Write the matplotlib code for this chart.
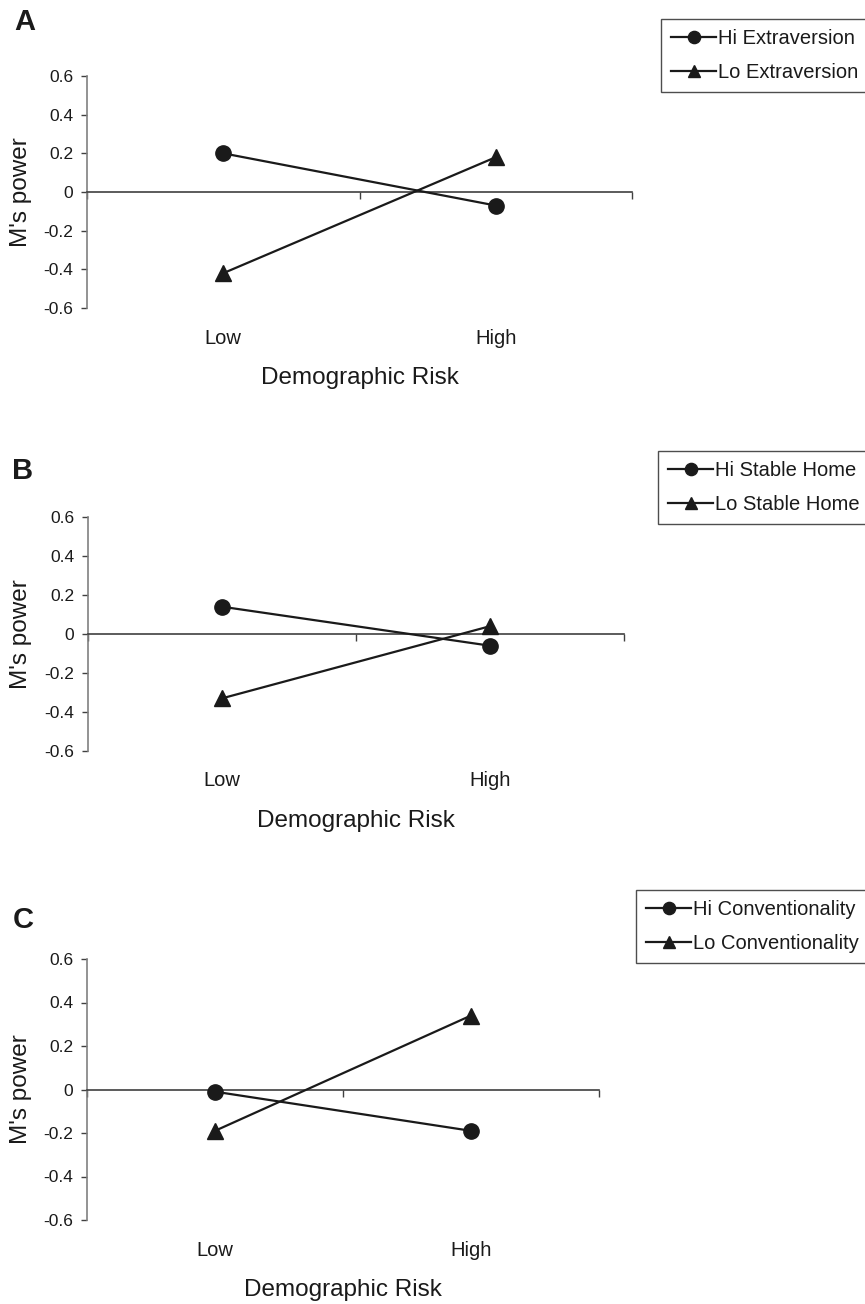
import matplotlib
matplotlib.use("Agg")
import matplotlib.pyplot as plt
from matplotlib.ticker import FixedLocator, FixedFormatter

plt.rcParams['font.family'] = ['Liberation Sans', 'DejaVu Sans']

# ---- data ----
categories = ['Low', 'High']
yticks = [-0.6, -0.4, -0.2, 0.0, 0.2, 0.4, 0.6]
ytick_labels = ['-0.6', '-0.4', '-0.2', '0', '0.2', '0.4', '0.6']

hi_extraversion = [0.20, -0.07]
lo_extraversion = [-0.42, 0.18]
hi_stable_home = [0.14, -0.06]
lo_stable_home = [-0.33, 0.04]
hi_conventionality = [-0.01, -0.19]
lo_conventionality = [-0.19, 0.34]

panels = [
    ('A', 'Hi Extraversion', hi_extraversion, 'Lo Extraversion', lo_extraversion),
    ('B', 'Hi Stable Home', hi_stable_home, 'Lo Stable Home', lo_stable_home),
    ('C', 'Hi Conventionality', hi_conventionality, 'Lo Conventionality', lo_conventionality),
]

W, H = 865, 1304
fig = plt.figure(figsize=(W / 100, H / 100), dpi=100)

# pixel layout: (left, right, top, bottom), legend anchor (x, y), letter (x, y)
layout = [
    ((87, 632, 76, 308), (661, 19), (14, 8)),
    ((88, 624, 517, 751), (658, 451), (12, 457)),
    ((87, 599, 959, 1220), (636, 890), (13, 906)),
]

TXT = '#1a1a1a'
for (letter, hi_lab, hi_vals, lo_lab, lo_vals), (box, leg, let) in zip(panels, layout):
    l, r, t, b = box
    ax = fig.add_axes([l / W, 1 - b / H, (r - l) / W, (b - t) / H])
    ax.set_xlim(0, len(categories))
    ax.set_ylim(-0.6, 0.6)
    xs = [i + 0.5 for i in range(len(categories))]
    ax.plot(xs, hi_vals, color='#1a1a1a', lw=1.6, marker='o', ms=11,
            label=hi_lab, clip_on=False, zorder=5)
    ax.plot(xs, lo_vals, color='#1a1a1a', lw=1.6, marker='^', ms=11,
            label=lo_lab, clip_on=False, zorder=5)

    for s in ['top', 'right']:
        ax.spines[s].set_visible(False)
    ax.spines['left'].set_color('#808080')
    ax.spines['left'].set_linewidth(1.2)
    ax.spines['bottom'].set_position(('data', 0))
    ax.spines['bottom'].set_color('#404040')
    ax.spines['bottom'].set_linewidth(1.2)

    ax.yaxis.set_major_locator(FixedLocator(yticks))
    ax.yaxis.set_major_formatter(FixedFormatter(ytick_labels))
    ax.tick_params(axis='y', direction='out', length=4, width=1, color='#404040',
                   labelsize=12.5, labelcolor=TXT, pad=6)
    ax.set_xticks([0, 1, 2])
    ax.set_xticklabels(['', '', ''])
    ax.tick_params(axis='x', direction='out', length=5, width=1, color='#404040')

    for x, c in zip(xs, categories):
        ax.annotate(c, xy=(x, 0), xycoords=('data', 'axes fraction'),
                    xytext=(0, -30 * 0.72), textcoords='offset points',
                    ha='center', va='center', fontsize=14.5, color=TXT)
    ax.annotate('Demographic Risk', xy=(0.5, 0), xycoords='axes fraction',
                xytext=(0, -70 * 0.72), textcoords='offset points',
                ha='center', va='center', fontsize=17.5, color=TXT)

    fig.text(21 / W, 1 - ((t + b) / 2) / H, "M's power", rotation=90,
             ha='center', va='center', fontsize=17.5, color=TXT)
    fig.text(let[0] / W, 1 - let[1] / H, letter, ha='left', va='top',
             fontsize=21, fontweight='bold', color=TXT)

    lg = fig.legend(handles=ax.get_lines(), loc='upper left',
                    bbox_to_anchor=(leg[0] / W, 1 - leg[1] / H),
                    borderaxespad=0, frameon=True, fancybox=False,
                    edgecolor='#222222', fontsize=14.5, handlelength=2.2,
                    handletextpad=0.12, labelspacing=0.72, borderpad=0.52,
                    markerscale=0.8)
    lg.get_frame().set_linewidth(1.0)
    for txt in lg.get_texts():
        txt.set_color(TXT)

fig.savefig('out.png', dpi=100)
